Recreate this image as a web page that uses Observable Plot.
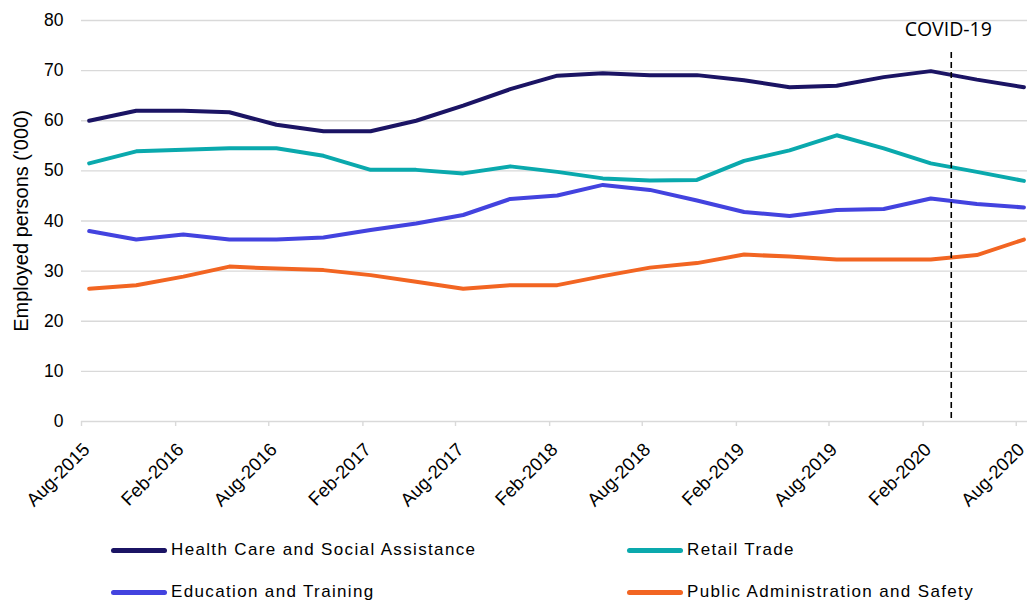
<!DOCTYPE html>
<html>
<head>
<meta charset="utf-8">
<script src="https://cdn.jsdelivr.net/npm/d3@7"></script>
<script src="https://cdn.jsdelivr.net/npm/@observablehq/plot@0.6"></script>
<style>
  html, body { margin: 0; padding: 0; background: #fff; }
  body { width: 1027px; height: 607px; overflow: hidden; font-family: "Liberation Sans", Arial, sans-serif; }
  #wrap { position: relative; width: 1027px; height: 607px; }
  #chart svg { display: block; }
  #legend { position: absolute; left: 0; top: 0; width: 1027px; height: 607px; pointer-events: none; }
  .item { position: absolute; display: flex; align-items: center; height: 30px; font-size: 17px; letter-spacing: 1.35px; color: #000; white-space: nowrap; }
  .sw { width: 56px; height: 5px; border-radius: 3px; margin-right: 4px; }
</style>
</head>
<body>
<div id="wrap">
  <div id="chart"></div>
  <div id="legend"></div>
</div>
<script>
// ---- data ----
const months = ["Aug-2015","Nov-2015","Feb-2016","May-2016","Aug-2016","Nov-2016","Feb-2017","May-2017","Aug-2017","Nov-2017","Feb-2018","May-2018","Aug-2018","Nov-2018","Feb-2019","May-2019","Aug-2019","Nov-2019","Feb-2020","May-2020","Aug-2020"];
const seriesNames = ["Health Care and Social Assistance","Retail Trade","Education and Training","Public Administration and Safety"];
const healthCare = [60.0,62.0,62.0,61.7,59.2,57.9,57.9,60.0,63.0,66.3,69.0,69.5,69.1,69.1,68.1,66.7,67.0,68.7,69.9,68.2,66.7];
const retailTrade = [51.5,53.9,54.2,54.5,54.5,53.0,50.2,50.2,49.5,50.9,49.8,48.5,48.1,48.2,52.0,54.1,57.1,54.5,51.5,49.8,48.0];
const education = [38.0,36.3,37.3,36.3,36.3,36.7,38.2,39.5,41.2,44.4,45.1,47.2,46.2,44.1,41.8,41.0,42.2,42.4,44.5,43.4,42.7];
const publicAdmin = [26.5,27.2,28.9,30.9,30.5,30.2,29.2,27.9,26.5,27.2,27.2,29.0,30.7,31.6,33.3,32.9,32.3,32.3,32.3,33.2,36.3];
const xTickLabels = ["Aug-2015","Feb-2016","Aug-2016","Feb-2017","Aug-2017","Feb-2018","Aug-2018","Feb-2019","Aug-2019","Feb-2020","Aug-2020"];
const yTicks = [0,10,20,30,40,50,60,70,80];
const colors = ["#1b1464","#0aa9ad","#4343df","#f26522"];
const covidDate = ["2020-03-27"];
const covidLabel = ["COVID-19"];

// ---- build table ----
const parseM = d3.utcParse("%b-%Y");
const midMonth = m => d3.utcDay.offset(parseM(m), 15);
const valuesBySeries = [healthCare, retailTrade, education, publicAdmin];
const rows = [];
seriesNames.forEach((s, i) => {
  months.forEach((m, j) => rows.push({series: s, date: midMonth(m), value: valuesBySeries[i][j]}));
});
const ticks = xTickLabels.map(t => ({date: parseM(t), label: t}));
const covid = covidDate.map((d, i) => ({date: new Date(d + "T00:00:00Z"), label: covidLabel[i]}));

const chart = Plot.plot({
  width: 1027,
  height: 522,
  marginTop: 20,
  marginBottom: 101,
  marginLeft: 81,
  marginRight: 0,
  style: {fontFamily: "'Liberation Sans', Arial, sans-serif", background: "#fff"},
  x: {type: "utc", domain: [new Date("2015-08-01T00:00:00Z"), new Date("2020-08-23T00:00:00Z")]},
  y: {domain: [0, 80]},
  color: {domain: seriesNames, range: colors},
  marks: [
    Plot.gridY(yTicks, {stroke: "#d9d9d9", strokeOpacity: 1, strokeWidth: 1.4}),
    Plot.axisY(yTicks, {tickSize: 0, tickPadding: 18, fontSize: 17.5, fill: "#000", label: null}),
    Plot.axisY({tickSize: 0, ticks: [], fontSize: 20, fill: "#000",
      label: "Employed persons ('000)", labelAnchor: "center", labelArrow: "none", labelOffset: 68}),
    Plot.axisX(ticks.map(d => d.date), {tickSize: 5, stroke: "#d9d9d9", strokeWidth: 1.4, tickFormat: () => "", label: null}),
    Plot.text(ticks, {x: "date", text: "label", frameAnchor: "bottom", lineAnchor: "middle", textAnchor: "end",
      rotate: -45, dx: 5, dy: 25, fontSize: 18.5, fill: "#000"}),
    Plot.line(rows, {x: "date", y: "value", z: "series", stroke: "series", strokeWidth: 4, strokeLinecap: "round", strokeLinejoin: "round"}),
    Plot.ruleX(covid, {x: "date", stroke: "#000", strokeWidth: 1.6, strokeDasharray: "6,4", insetTop: 32}),
    Plot.text(covid, {x: "date", text: "label", frameAnchor: "top", lineAnchor: "top", dy: 2, dx: -3, fontSize: 19.5, fill: "#000", fontFamily: "'Open Sans', sans-serif"})
  ]
});
document.getElementById("chart").appendChild(chart);

// ---- legend ----
const legend = document.getElementById("legend");
const legendPos = [[111, 535], [627, 535], [111, 577], [627, 577]];
seriesNames.forEach((name, k) => {
  const it = document.createElement("div");
  it.className = "item";
  it.style.left = legendPos[k][0] + "px";
  it.style.top = legendPos[k][1] + "px";
  const sw = document.createElement("span");
  sw.className = "sw";
  sw.style.background = colors[k];
  const tx = document.createElement("span");
  tx.textContent = name;
  it.appendChild(sw); it.appendChild(tx);
  legend.appendChild(it);
});
</script>
</body>
</html>
